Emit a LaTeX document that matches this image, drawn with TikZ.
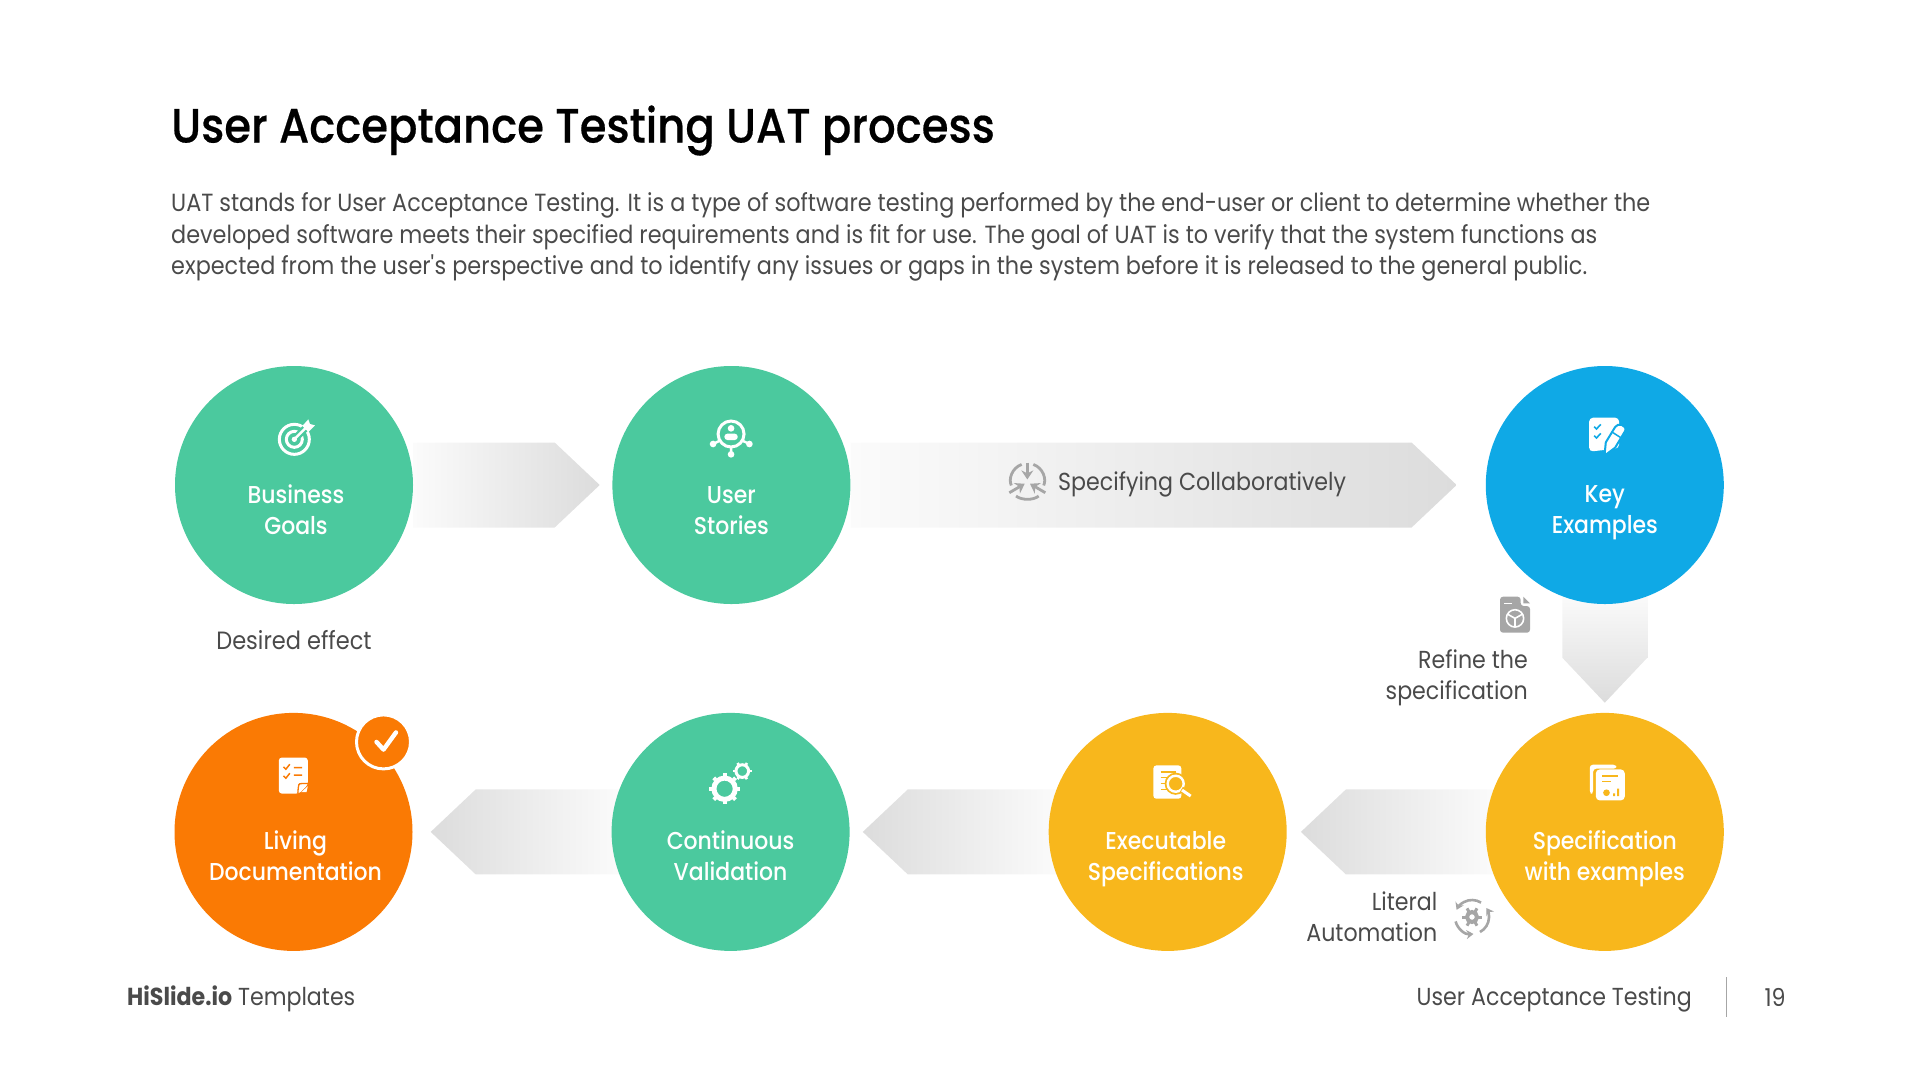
\documentclass[tikz,border=0pt]{standalone}
\usepackage{fontspec}
\setmainfont{Poppins}[FakeStretch=0.9]
\newfontfamily\medfont{Poppins Medium}[FakeStretch=0.9]
\newfontfamily\headfont{Poppins Medium}[FakeStretch=0.9,FakeBold=0.4]
\usepackage{xcolor}
\usepackage{tikz}
\usetikzlibrary{positioning,arrows.meta,backgrounds,calc}
\definecolor{stepgreen}{HTML}{4BC99E}
\definecolor{stepblue}{HTML}{0FA9E6}
\definecolor{stepyellow}{HTML}{F8B71C}
\definecolor{steporange}{HTML}{FA7A04}
\definecolor{bodygray}{HTML}{4A4A4A}
\definecolor{icongray}{HTML}{A6A6A6}
\definecolor{arrowgray}{HTML}{DCDCDC}
\definecolor{arrowpale}{HTML}{FBFBFB}
\newcommand{\flowarrow}[3]{%
  \coordinate (sh) at ($(#2)!45pt!(#1)$);
  \shade[#3] ($(#1)!42.5pt!90:(#2)$) -- ($(sh)!42.5pt!90:(#2)$) -- (#2)
    -- ($(sh)!42.5pt!-90:(#2)$) -- ($(#1)!42.5pt!-90:(#2)$) -- cycle;
}
\tikzset{
  stepnode/.style={circle,minimum size=238pt,inner sep=0pt},
  steptext/.style={font=\fontsize{24.4}{31}\medfont,text=white,align=center,inner sep=0pt},
  graytext/.style={font=\fontsize{24.6}{31}\selectfont,text=bodygray,inner sep=0pt},
  icon/.style={scale=.3333},
  tiptoright/.style={left color=arrowpale,right color=arrowgray},
  tiptoleft/.style={left color=arrowgray,right color=arrowpale},
  tiptodown/.style={top color=arrowpale,bottom color=arrowgray},
  targeticon/.pic={
    \draw[white,line width=3pt] (88,88) circle (45) (88,88) circle (24);
    \draw[stepgreen,line width=7pt] (88,88) -- (140,36);
    \fill[white] (88,88) circle (8);
    \draw[white,line width=2.4pt] (88,88) -- (124,52);
    \fill[white] (112,48) -- (130,28) -- (135,42) -- (150,46) -- (130,66) -- cycle;
  },
  usericon/.pic={
    \draw[white,line width=3pt] (92,72) circle (39);
    \draw[white,line width=2.4pt] (60,91) -- (38,102) (124,91) -- (147,102) (92,110) -- (92,133);
    \fill[white] (38,102) circle (10) (147,102) circle (10) (92,133) circle (10);
    \fill[white] (92,55) circle (10);
    \fill[white,rounded corners=3pt] (72,90) -- (72,71) -- (112,71) -- (112,90) -- cycle;
  },
  keyicon/.pic={
    \fill[white,rounded corners=4pt] (40,38) -- (130,38) -- (130,130) -- (40,140) -- cycle;
    \draw[stepblue,line width=2pt,line join=round,fill=white] (86,152) -- (90,112) -- (118,66)
      .. controls (125,52) and (155,60) .. (148,78) -- (118,128) -- cycle;
    \draw[stepblue,line width=1.5pt] (110,82) -- (135,98);
    \draw[stepblue,line width=1.6pt] (55,65) -- (62,72) -- (75,58) (55,92) -- (62,99) -- (75,85);
  },
  livingicon/.pic={
    \fill[white,rounded corners=3pt] (43,140) -- (130,140) -- (130,222) -- (104,248) -- (43,248) -- cycle;
    \draw[steporange,line width=1.3pt] (130,218) -- (112,218) .. controls (102,218) .. (100,248);
    \fill[white] (110,244) -- (130,226) -- (126,244) -- cycle;
    \draw[steporange,line width=1.5pt] (57,168) -- (64,175) -- (76,160) (57,195) -- (64,202) -- (76,187)
      (88,170) -- (113,170) (88,193) -- (113,193);
  },
  gearsicon/.pic={
    \draw[white,line width=5pt] (75,100) circle (32);
    \foreach \a in {0,45,...,315}
      \draw[white,line width=4pt] ($(75,100)+(\a:38)$) -- ($(75,100)+(\a:46)$);
    \draw[white,line width=3pt] (128,47) circle (19);
    \foreach \a in {0,60,...,300}
      \draw[white,line width=2.6pt] ($(128,47)+(\a:22)$) -- ($(128,47)+(\a:28)$);
  },
  execicon/.pic={
    \fill[white,rounded corners=3pt] (38,30) -- (122,30) -- (122,130) -- (38,130) -- cycle;
    \draw[stepyellow,line width=1.5pt] (60,50) -- (105,50) (60,66) -- (85,66) (60,85) -- (80,85) (60,102) -- (80,102);
    \draw[stepyellow,line width=6pt] (105,85) circle (24);
    \draw[white,line width=2.4pt,fill=stepyellow] (105,85) circle (24);
    \draw[stepyellow,line width=6pt] (122,102) -- (155,122);
    \draw[white,line width=3pt] (124,104) -- (150,122);
  },
  specicon/.pic={
    \fill[white,rounded corners=3pt] (42,28) -- (122,28) -- (122,40) -- (52,40) -- (52,115) -- (42,115) -- cycle;
    \fill[white,rounded corners=4pt] (60,42) -- (147,42) -- (147,135) -- (60,135) -- cycle;
    \draw[stepyellow,line width=1.8pt] (80,62) -- (127,62) (80,78) -- (105,78);
    \fill[stepyellow] (92,112) circle (10) (112,114) rectangle (118,122) (124,100) rectangle (130,122);
  },
  collabicon/.pic={
    \draw[icongray,line width=2.8pt] (65,27) .. controls (35,38) and (25,72) .. (34,90)
      (100,27) .. controls (130,38) and (140,72) .. (131,90)
      (48,122) .. controls (65,135) and (100,135) .. (116,122);
    \draw[icongray,line width=2.8pt,-{Stealth[length=9pt,width=12pt]}] (82,22) -- (82,72);
    \draw[icongray,line width=2.8pt,-{Stealth[length=9pt,width=12pt]}] (28,112) -- (74,85);
    \draw[icongray,line width=2.8pt,-{Stealth[length=9pt,width=12pt]}] (136,112) -- (90,85);
  },
  refineicon/.pic={
    \fill[icongray,rounded corners=3pt] (0,0) -- (62,0) -- (62,28) -- (90,28) -- (90,108) -- (0,108) -- cycle;
    \fill[icongray] (70,0) -- (90,20) -- (70,20) -- cycle;
    \draw[white,line width=1.4pt] (12,20) -- (35,20);
    \draw[white,line width=1.6pt] (45,65) circle (26) (45,65) -- (45,92) (45,65) -- (22,52) (45,65) -- (68,52);
  },
  literalicon/.pic={
    \draw[icongray,line width=2.6pt,-{Stealth[length=7pt,width=9pt]}] (165:17) arc (165:85:17);
    \draw[icongray,line width=2.6pt,-{Stealth[length=7pt,width=9pt]}] (62:17) arc (62:-32:17);
    \draw[icongray,line width=2.6pt,-{Stealth[length=7pt,width=9pt]}] (-58:17) arc (-58:-155:17);
    \draw[icongray,line width=4pt] (0,0) circle (5);
    \foreach \a in {0,60,...,300}
      \draw[icongray,line width=3pt] (\a:6) -- (\a:10);
  },
}
\begin{document}
\begin{tikzpicture}[x=1pt,y=-1pt]
  \useasboundingbox (0,0) rectangle (1920,1080);
  % heading
  \node[anchor=west,inner sep=0pt,font=\fontsize{48.2}{52}\headfont] (title) at (171,130.5) {User Acceptance Testing UAT process};
  \node[anchor=north west,inner sep=0pt,align=left,font=\fontsize{24.83}{31.3}\selectfont,text=bodygray] (intro) at (171,192.8)
    {UAT stands for User Acceptance Testing. It is a type of software testing performed by the end-user or client to determine whether the\\
     developed software meets their specified requirements and is fit for use. The goal of UAT is to verify that the system functions as\\
     expected from the user\textquotesingle s perspective and to identify any issues or gaps in the system before it is released to the general public.};
  % top row
  \node[stepnode,fill=stepgreen] (goals) at (294,485) {};
  \node[stepnode,fill=stepgreen,right=199pt of goals] (stories) {};
  \node[stepnode,fill=stepblue,right=635pt of stories] (keyex) {};
  % bottom row
  \node[stepnode,fill=stepyellow,below=108.5pt of keyex] (spec) {};
  \node[stepnode,fill=stepyellow,left=198.7pt of spec] (exec) {};
  \node[stepnode,fill=stepgreen,left=198.7pt of exec] (valid) {};
  \node[stepnode,fill=steporange,left=198.7pt of valid] (living) {};
  % circle labels
  \node[steptext] (goalstxt) at ($(goals)+(2,25)$) {Business\\Goals};
  \node[steptext] (storiestxt) at ($(stories)+(0,26)$) {User\\Stories};
  \node[steptext] (keyextxt) at ($(keyex)+(0,27.8)$) {Key\\Examples};
  \node[steptext] (spectxt) at ($(spec)+(0,26.5)$) {Specification\\with examples};
  \node[steptext] (exectxt) at ($(exec)+(-2,27.5)$) {Executable\\Specifications};
  \node[steptext] (validtxt) at ($(valid)+(0,24)$) {Continuous\\Validation};
  \node[steptext] (livingtxt) at ($(living)+(2,23.8)$) {Living\\Documentation};
  % flow arrows
  \begin{scope}[on background layer]
    \flowarrow{goals.east}{[xshift=-12.5pt]stories.west}{tiptoright}
    \flowarrow{stories.east}{[xshift=-29pt]keyex.west}{tiptoright}
    \flowarrow{[yshift=10pt]keyex.south}{[yshift=10pt]spec.north}{tiptodown}
    \flowarrow{[xshift=10pt]spec.west}{[xshift=14pt]exec.east}{tiptoleft}
    \flowarrow{[xshift=10pt]exec.west}{[xshift=13pt]valid.east}{tiptoleft}
    \flowarrow{[xshift=10pt]valid.west}{[xshift=18pt]living.east}{tiptoleft}
  \end{scope}
  % badge on the last step
  \node[circle,fill=steporange,draw=white,line width=3pt,minimum size=54pt,inner sep=0pt] (badge) at ($(living)+(90,-90)$) {};
  \draw[white,line width=4.4pt,line cap=round,line join=round] ($(badge)+(-7,0)$) -- ($(badge)+(0,7.7)$) -- ($(badge)+(12.5,-9.5)$);
  % icons
  \pic[icon] at ($(goals)+(-29,-75)$) {targeticon};
  \pic[icon] at ($(stories)+(-31,-75)$) {usericon};
  \pic[icon] at ($(keyex)+(-29,-80)$) {keyicon};
  \pic[icon] at ($(living)+(-29,-121)$) {livingicon};
  \pic[icon] at ($(valid)+(-31,-76.5)$) {gearsicon};
  \pic[icon] at ($(exec)+(-27,-76.5)$) {execicon};
  \pic[icon] at ($(spec)+(-29,-76.5)$) {specicon};
  % side labels
  \node[graytext,font=\fontsize{25}{31}\selectfont] (effect) at (294,640) {Desired effect};
  \node[graytext,anchor=west] (collab) at (1058,484.4) {Specifying Collaboratively};
  \pic[icon] at ($(collab.west)+(-58,-29)$) {collabicon};
  \node[graytext,anchor=east,align=right] (refine) at (1528,678) {Refine the\\specification};
  \pic[icon] at ($(refine.north east)+(-28,-53)$) {refineicon};
  \node[graytext,anchor=east,align=right] (literal) at (1437.5,917) {Literal\\Automation};
  \pic at ($(literal.east)+(34.5,0)$) {literalicon};
  % footer
  \node[graytext,anchor=west] (brand) at (127,998.4) {{\bfseries HiSlide.io} Templates};
  \node[graytext,anchor=east] (deck) at (1692,999.4) {User Acceptance Testing};
  \coordinate (ruletop) at (1726.5,977);
  \coordinate (rulebot) at (1726.5,1017);
  \draw[gray!70,line width=1.2pt] (ruletop) -- (rulebot);
  \node[graytext] (pageno) at (1775,997) {19};
\end{tikzpicture}
\end{document}
